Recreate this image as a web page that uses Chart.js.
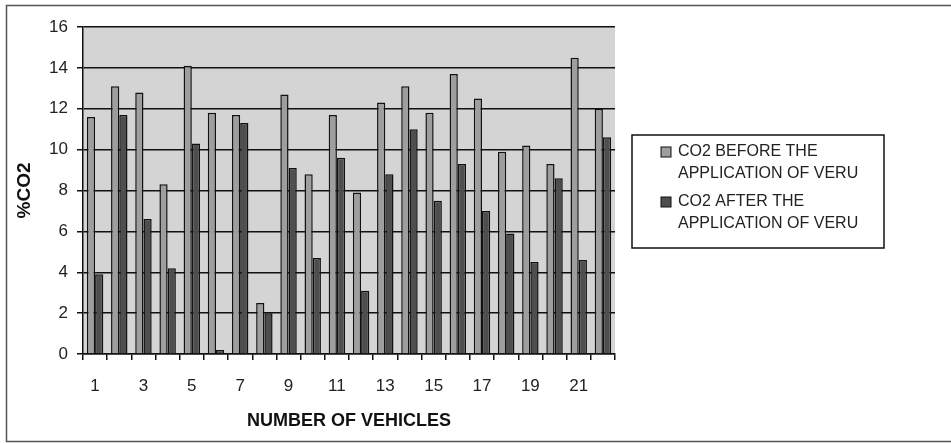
<!DOCTYPE html>
<html>
<head>
<meta charset="utf-8">
<title>%CO2 before and after VERU</title>
<script src="https://cdn.jsdelivr.net/npm/chart.js@4.4.1/dist/chart.umd.min.js"></script>
<style>
  html, body { margin: 0; padding: 0; background: #fff; }
  #wrap { width: 951px; height: 443px; }
</style>
</head>
<body>
<div id="wrap"><canvas id="co2Chart" width="951" height="443"></canvas></div>
<script>
// values
const vehicles = ["1", "2", "3", "4", "5", "6", "7", "8", "9", "10", "11",
  "12", "13", "14", "15", "16", "17", "18", "19", "20", "21", "22"];
const co2Before = [11.6, 13.1, 12.8, 8.3, 14.1, 11.8, 11.7, 2.5, 12.7, 8.8, 11.7,
  7.9, 12.3, 13.1, 11.8, 13.7, 12.5, 9.9, 10.2, 9.3, 14.5, 12.0];
const co2After = [3.9, 11.7, 6.6, 4.2, 10.3, 0.2, 11.3, 2.0, 9.1, 4.7, 9.6,
  3.1, 8.8, 11.0, 7.5, 9.3, 7.0, 5.9, 4.5, 8.6, 4.6, 10.6];
const seriesNames = [
  ["CO2 BEFORE THE", "APPLICATION OF VERU"],
  ["CO2 AFTER THE", "APPLICATION OF VERU"]
];
const yTicks = [0, 2, 4, 6, 8, 10, 12, 14, 16];

const FONT = "'Liberation Sans', Arial, sans-serif";

// grey plot area + outer frame, like the old Excel chart
const framePlugin = {
  id: "frame",
  beforeDraw(chart) {
    const { ctx, chartArea: a } = chart;
    ctx.save();
    ctx.fillStyle = "#fff";
    ctx.fillRect(0, 0, chart.width, chart.height);
    ctx.fillStyle = "#d4d4d4";
    ctx.fillRect(a.left, a.top, a.right - a.left, a.bottom - a.top);
    ctx.strokeStyle = "#555";
    ctx.lineWidth = 1.5;
    ctx.beginPath();
    ctx.moveTo(chart.width + 2, 5.5);
    ctx.lineTo(6.5, 5.5);
    ctx.lineTo(6.5, 441.5);
    ctx.lineTo(chart.width + 2, 441.5);
    ctx.stroke();
    ctx.restore();
  }
};

// legend box on the right with two-line labels
const boxLegend = {
  id: "boxLegend",
  afterDraw(chart) {
    const ctx = chart.ctx;
    ctx.save();
    ctx.strokeStyle = "#111";
    ctx.lineWidth = 1.5;
    ctx.strokeRect(632, 135, 252, 113);
    ctx.font = "16px " + FONT;
    ctx.textBaseline = "middle";
    ctx.textAlign = "left";
    chart.data.datasets.forEach((ds, i) => {
      const y = 152 + i * 50;
      ctx.fillStyle = ds.backgroundColor;
      ctx.fillRect(661, y - 5, 10, 10);
      ctx.strokeStyle = "#111";
      ctx.lineWidth = 1;
      ctx.strokeRect(661, y - 5, 10, 10);
      ctx.fillStyle = "#222";
      seriesNames[i].forEach((line, j) => {
        ctx.fillText(line, 678, y + j * 22);
      });
    });
    ctx.restore();
  }
};

new Chart(document.getElementById("co2Chart"), {
  type: "bar",
  data: {
    labels: vehicles,
    datasets: [
      {
        label: seriesNames[0].join(" "),
        data: co2Before,
        backgroundColor: "#9e9e9e",
        borderColor: "#111",
        borderWidth: 1.5,
        categoryPercentage: 0.68,
        barPercentage: 1.0
      },
      {
        label: seriesNames[1].join(" "),
        data: co2After,
        backgroundColor: "#4e4e4e",
        borderColor: "#111",
        borderWidth: 1.5,
        categoryPercentage: 0.68,
        barPercentage: 1.0
      }
    ]
  },
  options: {
    responsive: false,
    animation: false,
    layout: { padding: { top: 27, right: 336, left: 13, bottom: 11 } },
    plugins: {
      legend: { display: false },
      tooltip: { enabled: false }
    },
    scales: {
      x: {
        grid: { offset: true, drawOnChartArea: false, color: "#111", lineWidth: 1.5, tickLength: 6 },
        border: { color: "#111", width: 1.5 },
        ticks: {
          autoSkip: false,
          maxRotation: 0,
          padding: 16,
          color: "#222",
          font: { family: FONT, size: 17 },
          callback: (v, i) => (i % 2 === 0 ? vehicles[i] : "")
        },
        title: {
          display: true,
          text: "NUMBER OF VEHICLES",
          color: "#111",
          font: { family: FONT, size: 18, weight: "bold" },
          padding: { top: 8, bottom: 0 }
        },
        afterFit(scale) { scale.height = 78; }
      },
      y: {
        min: 0,
        max: 16,
        afterBuildTicks(scale) { scale.ticks = yTicks.map(v => ({ value: v })); },
        grid: { color: "#111", lineWidth: 1.5, tickLength: 6 },
        border: { color: "#111", width: 1.5 },
        ticks: {
          padding: 9,
          color: "#222",
          font: { family: FONT, size: 17 }
        },
        title: {
          display: true,
          text: "%CO2",
          color: "#111",
          font: { family: FONT, size: 19, weight: "bold" },
          padding: { top: 0, bottom: 4 }
        },
        afterFit(scale) { scale.width = 70; }
      }
    }
  },
  plugins: [framePlugin, boxLegend]
});
</script>
</body>
</html>
